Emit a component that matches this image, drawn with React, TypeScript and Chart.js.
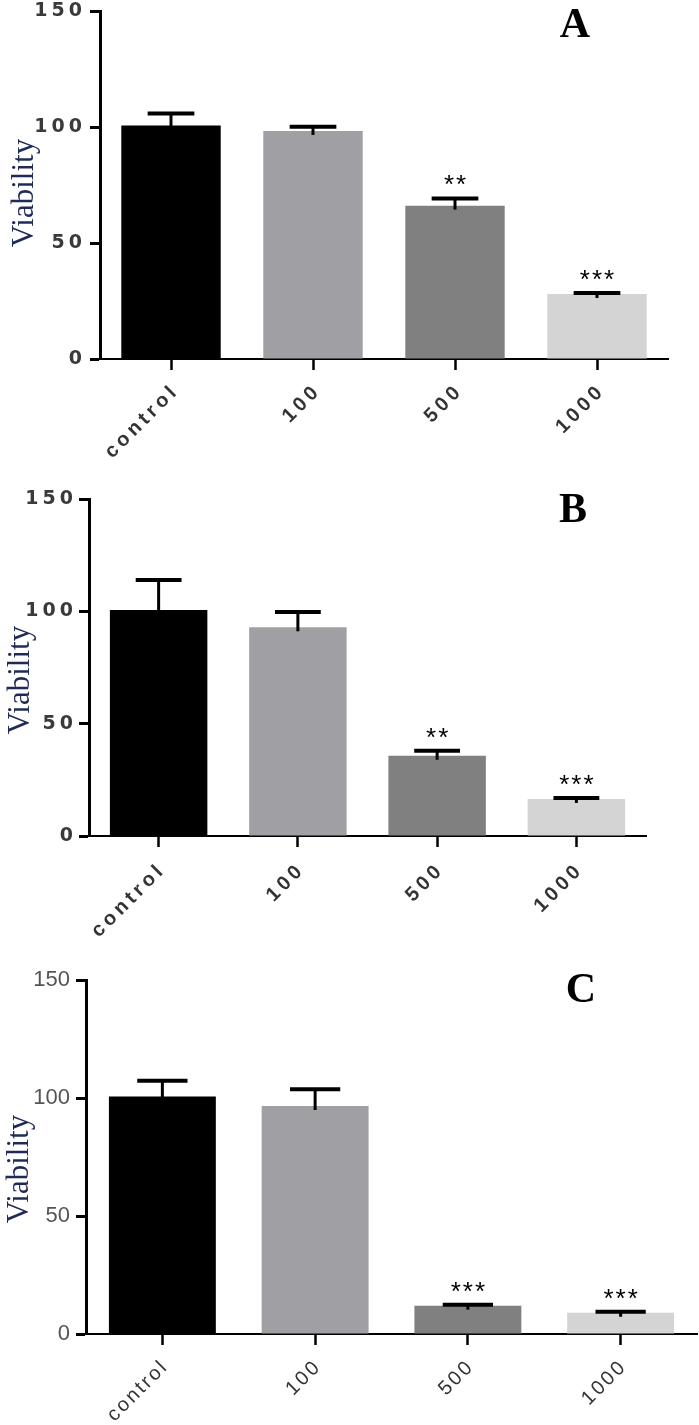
import React, { useEffect, useRef } from "react";
import { Chart, registerables } from "chart.js";

Chart.register(...registerables);

// ---------------- data ----------------
const categories = ["control", "100", "500", "1000"];
const yTickValues = [0, 50, 100, 150];
const barColors = ["#000000", "#a0a0a4", "#808080", "#d4d4d4"];
const panelLabels = ["A", "B", "C"];
const yAxisTitle = "Viability";

const valuesA = [100.7, 98.3, 66.1, 28.0];
const errorsA = [5.1, 1.8, 3.1, 0.4];
const signifA = ["", "", "**", "***"];

const valuesB = [100.6, 92.9, 35.7, 16.5];
const errorsB = [13.4, 6.8, 2.2, 0.4];
const signifB = ["", "", "**", "***"];

const valuesC = [100.6, 96.6, 12.0, 9.0];
const errorsC = [6.7, 7.1, 0.4, 0.4];
const signifC = ["", "", "***", "***"];

// ---------------- layout / style ----------------
const W = 699;
const SANS = '"Liberation Sans", Arial, sans-serif';
const HEAVY = '"DejaVu Sans", "Liberation Sans", sans-serif';
const SERIF = '"Liberation Serif", "Times New Roman", serif';

type PanelCfg = {
  label: string;
  values: number[];
  errors: number[];
  signif: string[];
  top: number;
  height: number;
  area: { left: number; right: number; top: number; bottom: number };
  yFont: any;
  yColor: string;
  yLs: string;
  yPad: number;
  xFont: any;
  xColor: string;
  xLs: string;
  xOffset: number;
  xPad: number;
  letterPos: { x: number; y: number };
  titlePos: { x: number; y: number };
};

const panels: PanelCfg[] = [
  {
    label: panelLabels[0],
    values: valuesA,
    errors: errorsA,
    signif: signifA,
    top: 0,
    height: 460,
    area: { left: 100, right: 668, top: 11, bottom: 359 },
    yFont: { family: HEAVY, size: 19, weight: "bold" },
    yColor: "#3a3a3a",
    yLs: "4px",
    yPad: 4,
    xFont: { family: SANS, size: 20, weight: "bold" },
    xColor: "#333333",
    xLs: "4px",
    xOffset: 5,
    xPad: 9,
    letterPos: { x: 575, y: 37 },
    titlePos: { x: 33, y: 193 },
  },
  {
    label: panelLabels[1],
    values: valuesB,
    errors: errorsB,
    signif: signifB,
    top: 460,
    height: 480,
    area: { left: 89, right: 646, top: 39, bottom: 376 },
    yFont: { family: HEAVY, size: 19, weight: "bold" },
    yColor: "#3a3a3a",
    yLs: "4px",
    yPad: 2,
    xFont: { family: SANS, size: 20, weight: "bold" },
    xColor: "#333333",
    xLs: "4px",
    xOffset: 4,
    xPad: 11,
    letterPos: { x: 573, y: 62 },
    titlePos: { x: 29, y: 220 },
  },
  {
    label: panelLabels[2],
    values: valuesC,
    errors: errorsC,
    signif: signifC,
    top: 940,
    height: 485,
    area: { left: 86, right: 697, top: 40, bottom: 394 },
    yFont: { family: SANS, size: 22, weight: "normal" },
    yColor: "#555555",
    yLs: "0px",
    yPad: 6,
    xFont: { family: SANS, size: 20, weight: "normal" },
    xColor: "#333333",
    xLs: "2.5px",
    xOffset: 3,
    xPad: 10,
    letterPos: { x: 581, y: 62 },
    titlePos: { x: 28, y: 229 },
  },
];

function withLetterSpacing(scale: any, ls: string) {
  if (scale.__lsWrapped) return;
  const orig = scale.drawLabels.bind(scale);
  scale.drawLabels = (area: any) => {
    const ctx = scale.ctx;
    ctx.save();
    (ctx as any).letterSpacing = ls;
    orig(area);
    ctx.restore();
  };
  scale.__lsWrapped = true;
}

function Panel({ cfg }: { cfg: PanelCfg }) {
  const ref = useRef<HTMLCanvasElement>(null);

  useEffect(() => {
    const canvas = ref.current!;
    const decor = {
      id: "decor-" + cfg.label,
      afterDatasetsDraw(chart: any) {
        const ctx = chart.ctx;
        const meta = chart.getDatasetMeta(0);
        const ys = chart.scales.y;
        ctx.save();
        ctx.strokeStyle = "#000";
        ctx.fillStyle = "#000";
        meta.data.forEach((bar: any, i: number) => {
          const v = cfg.values[i];
          const e = cfg.errors[i];
          const yBar = ys.getPixelForValue(v);
          const yTop = ys.getPixelForValue(v + e);
          const capW = bar.width * 0.47;
          // stem
          ctx.lineWidth = 3;
          ctx.beginPath();
          ctx.moveTo(bar.x, yBar + 4);
          ctx.lineTo(bar.x, yTop);
          ctx.stroke();
          // cap
          ctx.lineWidth = 4;
          ctx.beginPath();
          ctx.moveTo(bar.x - capW / 2, yTop);
          ctx.lineTo(bar.x + capW / 2, yTop);
          ctx.stroke();
          // significance stars
          const s = cfg.signif[i];
          if (s) {
            (ctx as any).letterSpacing = "2px";
            ctx.font = `26px ${SANS}`;
            ctx.textAlign = "center";
            ctx.textBaseline = "alphabetic";
            ctx.fillText(s, bar.x + 1, yTop - 5);
            (ctx as any).letterSpacing = "0px";
          }
        });
        ctx.restore();
      },
      afterDraw(chart: any) {
        const ctx = chart.ctx;
        ctx.save();
        // panel letter
        ctx.fillStyle = "#000";
        ctx.font = `bold 42px ${SERIF}`;
        ctx.textAlign = "center";
        ctx.textBaseline = "alphabetic";
        ctx.fillText(cfg.label, cfg.letterPos.x, cfg.letterPos.y);
        // y axis title
        ctx.translate(cfg.titlePos.x, cfg.titlePos.y);
        ctx.rotate(-Math.PI / 2);
        ctx.fillStyle = "#1f2a55";
        ctx.font = `31px ${SERIF}`;
        ctx.textAlign = "center";
        ctx.fillText(yAxisTitle, 0, 0);
        ctx.restore();
      },
    };

    const a = cfg.area;
    const chart = new Chart(canvas, {
      type: "bar",
      data: {
        labels: categories,
        datasets: [
          {
            data: cfg.values,
            backgroundColor: barColors,
            borderWidth: 0,
            categoryPercentage: 1,
            barPercentage: 0.7,
          },
        ],
      },
      options: {
        responsive: false,
        animation: false,
        devicePixelRatio: 1,
        layout: {
          padding: { left: 0, top: a.top, right: W - a.right, bottom: 0 },
        },
        plugins: {
          legend: { display: false },
          tooltip: { enabled: false },
          title: { display: false },
        },
        scales: {
          x: {
            type: "category",
            offset: true,
            grid: {
              display: true,
              drawOnChartArea: false,
              drawTicks: true,
              tickLength: 11,
              tickWidth: 2.5,
              tickColor: "#000",
              color: "#000",
              offset: false,
            },
            border: { display: true, color: "#000", width: 2 },
            ticks: {
              autoSkip: false,
              minRotation: 45,
              maxRotation: 45,
              padding: cfg.xPad,
              labelOffset: cfg.xOffset,
              color: cfg.xColor,
              font: cfg.xFont,
            },
            afterFit: (s: any) => {
              s.height = cfg.height - a.bottom;
              s.paddingLeft = 0;
              s.paddingRight = 0;
              withLetterSpacing(s, cfg.xLs);
            },
          },
          y: {
            min: 0,
            max: 150,
            afterBuildTicks: (s: any) => {
              s.ticks = yTickValues.map((v) => ({ value: v }));
            },
            grid: {
              display: true,
              drawOnChartArea: false,
              drawTicks: true,
              tickLength: 10,
              tickWidth: 3,
              tickColor: "#000",
              color: "#000",
            },
            border: { display: true, color: "#000", width: 3 },
            ticks: {
              padding: cfg.yPad,
              color: cfg.yColor,
              font: cfg.yFont,
            },
            afterFit: (s: any) => {
              s.width = a.left;
              s.paddingTop = 0;
              s.paddingBottom = 0;
              withLetterSpacing(s, cfg.yLs);
            },
          },
        },
      },
      plugins: [decor],
    } as any);
    return () => chart.destroy();
  }, [cfg]);

  return (
    <canvas
      ref={ref}
      width={W}
      height={cfg.height}
      style={{
        position: "absolute",
        left: 0,
        top: cfg.top,
        width: W,
        height: cfg.height,
        display: "block",
      }}
    />
  );
}

export default function App() {
  return (
    <div
      style={{
        position: "absolute",
        left: 0,
        top: 0,
        width: W,
        height: 1425,
        background: "#ffffff",
        overflow: "hidden",
      }}
    >
      {panels.map((p) => (
        <Panel key={p.label} cfg={p} />
      ))}
    </div>
  );
}
